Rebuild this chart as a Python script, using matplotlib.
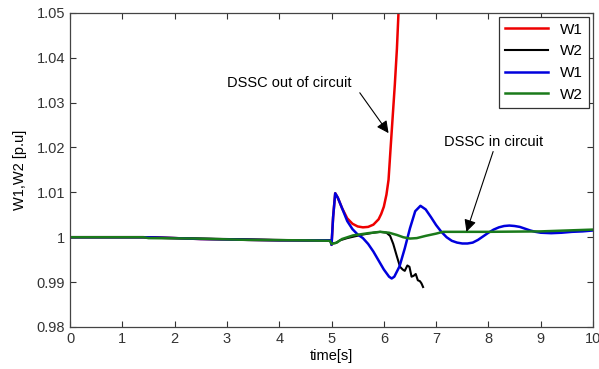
import matplotlib.pyplot as plt

plt.rcParams['font.family'] = ['Liberation Sans', 'DejaVu Sans']
plt.rcParams['font.size'] = 10

# W1 with DSSC in circuit (blue)
t_w1_in = [0, 1.4, 2.0, 2.5, 3.0, 3.5, 4.0, 4.5, 4.98, 5.0, 5.03, 5.07, 5.12, 5.2,
           5.3, 5.4, 5.5, 5.6, 5.7, 5.8, 5.9, 6.0, 6.1, 6.15, 6.2, 6.3, 6.4, 6.5,
           6.6, 6.7, 6.8, 6.9, 7.0, 7.1, 7.2, 7.3, 7.4, 7.5, 7.6, 7.7, 7.8, 7.9,
           8.0, 8.1, 8.2, 8.3, 8.4, 8.5, 8.6, 8.7, 8.8, 8.9, 9.0, 9.2, 9.4, 9.6,
           9.8, 10]
w1_in = [1.0, 1.0, 0.9998, 0.9996, 0.9995, 0.9994, 0.9993, 0.9993, 0.9993, 0.9983,
         1.0045, 1.0098, 1.0088, 1.0065, 1.0036, 1.0018, 1.0006, 0.9998, 0.9985,
         0.9968, 0.9948, 0.9928, 0.9912, 0.9908, 0.9912, 0.9935, 0.9975, 1.0020,
         1.0058, 1.0070, 1.0062, 1.0045, 1.0027, 1.0012, 1.0000, 0.9992, 0.9988,
         0.9986, 0.9986, 0.9988, 0.9994, 1.0002, 1.0010, 1.0017, 1.0022, 1.0025,
         1.0026, 1.0025, 1.0023, 1.0019, 1.0015, 1.0012, 1.0010, 1.0009, 1.0010,
         1.0012, 1.0013, 1.0015]

# W1 with DSSC out of circuit (red)
t_w1_out = [0, 1.4, 2.0, 2.5, 3.0, 3.5, 4.0, 4.5, 4.98, 5.0, 5.03, 5.07, 5.12, 5.2,
            5.3, 5.4, 5.5, 5.6, 5.7, 5.8, 5.9, 5.95, 6.0, 6.05, 6.09, 6.13, 6.17,
            6.21, 6.25, 6.28, 6.3]
w1_out = [1.0, 1.0, 0.9998, 0.9996, 0.9995, 0.9994, 0.9993, 0.9993, 0.9993, 0.9983,
          1.0045, 1.0098, 1.0088, 1.0065, 1.0042, 1.0030, 1.0024, 1.0022, 1.0023,
          1.0028, 1.0040, 1.0052, 1.0068, 1.0095, 1.0128, 1.0200, 1.0270, 1.0340,
          1.0420, 1.0500, 1.0550]

# W2 with DSSC out of circuit (black)
t_w2_out = [0, 1.4, 2.5, 3.5, 4.5, 4.98, 5.0, 5.08, 5.16, 5.3, 5.41, 5.6, 5.8, 5.93,
            6.05, 6.12, 6.18, 6.25, 6.31, 6.36, 6.4, 6.45, 6.49, 6.53, 6.57, 6.61,
            6.65, 6.69, 6.72, 6.75]
w2_out = [1.0, 1.0, 0.9997, 0.9995, 0.9993, 0.9993, 0.9986, 0.9987, 0.9993, 0.9998,
          1.0001, 1.0006, 1.0010, 1.0012, 1.0010, 1.0003, 0.9985, 0.9957, 0.9934,
          0.9928, 0.9925, 0.9937, 0.9934, 0.9912, 0.9914, 0.9918, 0.9904, 0.9902,
          0.9897, 0.9889]

# W2 with DSSC in circuit (green)
t_w2_in = [0, 1.4, 1.5, 2.4, 3.4, 4.5, 4.97, 5.0, 5.1, 5.2, 5.41, 5.7, 5.93, 6.1,
           6.25, 6.37, 6.5, 6.63, 6.8, 7.0, 7.13, 7.5, 8.0, 9.0, 10]
w2_in = [1.0, 1.0, 0.9998, 0.9997, 0.9994, 0.9993, 0.9992, 0.9985, 0.9988, 0.9996,
         1.0004, 1.0009, 1.0012, 1.0010, 1.0005, 1.0000, 0.9997, 0.9998, 1.0003,
         1.0008, 1.0012, 1.0012, 1.0012, 1.0013, 1.0017]

fig = plt.figure(figsize=(5.99, 3.69), dpi=100)
ax = fig.add_axes([0.117, 0.114, 0.873, 0.851])

ax.plot(t_w1_out, w1_out, color='#ee0000', lw=1.8, label='W1')
ax.plot(t_w2_out, w2_out, color='black', lw=1.5, label='W2')
ax.plot(t_w1_in, w1_in, color='#0000dd', lw=1.8, label='W1')
ax.plot(t_w2_in, w2_in, color='#1a7a1a', lw=1.8, label='W2')

ax.set_xlim(0, 10)
ax.set_ylim(0.98, 1.05)
ax.set_xticks(range(0, 11))
ax.set_yticks([0.98, 0.99, 1.0, 1.01, 1.02, 1.03, 1.04, 1.05])
ax.set_yticklabels(['0.98', '0.99', '1', '1.01', '1.02', '1.03', '1.04', '1.05'])
ax.tick_params(direction='in', top=True, right=True, length=4, width=0.8,
               colors='#333333', labelsize=10.5)
for sp in ax.spines.values():
    sp.set_color('#444444')
    sp.set_linewidth(0.9)

ax.set_xlabel('time[s]', fontsize=10.5, labelpad=2)
ax.set_ylabel('W1,W2 [p.u]', fontsize=10.5, labelpad=7)

arrow = dict(arrowstyle='-|>', color='black', lw=0.8, mutation_scale=18,
             shrinkA=0, shrinkB=0)
ax.text(4.19, 1.0344, 'DSSC out of circuit', ha='center', va='center',
        fontsize=10.5)
ax.annotate('', xy=(6.09, 1.0232), xytext=(5.54, 1.0322), arrowprops=arrow)
ax.text(8.1, 1.0213, 'DSSC in circuit', ha='center', va='center',
        fontsize=10.5)
ax.annotate('', xy=(7.58, 1.0012), xytext=(8.09, 1.0191), arrowprops=arrow)

leg = ax.legend(loc='upper right', fontsize=11, fancybox=False, framealpha=1,
                edgecolor='#333333', handlelength=2.8, borderaxespad=0.25,
                labelspacing=0.5)
leg.get_frame().set_linewidth(0.9)

fig.savefig('out.png', dpi=100)
